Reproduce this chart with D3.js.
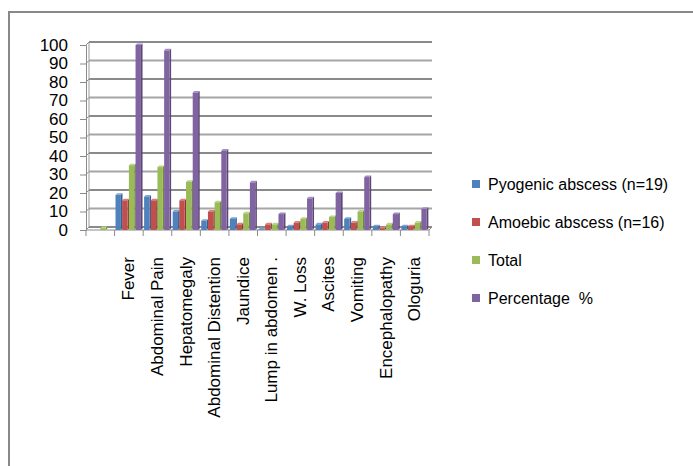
<!DOCTYPE html>
<html><head><meta charset="utf-8">
<script src="https://cdn.jsdelivr.net/npm/d3@7"></script>
<style>body{margin:0;background:#fff}svg{display:block;font-family:"Liberation Sans",Arial,sans-serif}text{white-space:pre}</style>
</head><body><svg id="c" width="693" height="466"></svg>
<script>
const categories = ["", "Fever", "Abdominal Pain", "Hepatomegaly", "Abdominal Distention", "Jaundice", "Lump in abdomen .", "W. Loss", "Ascites", "Vomiting", "Encephalopathy", "Ologuria"];
const seriesNames = ["Pyogenic abscess (n=19)", "Amoebic abscess (n=16)", "Total", "Percentage  %"];
const pyogenic = [0, 19, 18, 10, 5, 6, 0.4, 2, 3, 6, 2, 2];
const amoebic = [0, 16, 16, 16, 10, 3, 3, 4, 4, 4, 1, 2];
const total = [1, 35, 34, 26, 15, 9, 3, 6, 7, 10, 3, 4];
const percentage = [0, 100, 97.1, 74.3, 42.9, 25.7, 8.6, 17.1, 20, 28.6, 8.6, 11.4];
const yTicks = [0, 10, 20, 30, 40, 50, 60, 70, 80, 90, 100];
const colors = ["#4f81bd", "#c0504d", "#9bbb59", "#8064a2"];
const sideColors = ["#385d8a", "#8c3836", "#71893f", "#5c4776"];
const topColors = ["#7fa3d3", "#d8807d", "#bcd48a", "#a48ec0"];

const series = [pyogenic, amoebic, total, percentage];
const svg = d3.select("#c");
const dx = 3, dy = 3; // 3D depth offset

// outer frame
svg.append("line").attr("x1", 9).attr("x2", 693).attr("y1", 12).attr("y2", 12).attr("stroke", "#888").attr("stroke-width", 2);
svg.append("line").attr("x1", 9).attr("x2", 9).attr("y1", 11).attr("y2", 466).attr("stroke", "#888").attr("stroke-width", 2);

const x = d3.scaleBand().domain(categories.map((d, i) => i)).range([86, 429]).paddingInner(0).paddingOuter(0);
const y = d3.scaleLinear().domain([0, 100]).range([230, 45]);
const inner = d3.scaleBand().domain([0, 1, 2, 3]).range([0, x.bandwidth()]).paddingInner(0).paddingOuter(0.14);

// back wall gridlines
const g = svg.append("g");
yTicks.forEach((t, i) => {
  g.append("line").attr("x1", 86 + dx).attr("x2", 429 + dx).attr("y1", y(t) - dy).attr("y2", y(t) - dy)
    .attr("stroke", i % 2 ? "#a6a6a6" : "#8a8a8a").attr("stroke-width", 2);
  g.append("line").attr("x1", 86).attr("x2", 86 + dx).attr("y1", y(t)).attr("y2", y(t) - dy)
    .attr("stroke", "#8a8a8a").attr("stroke-width", 1);
});
g.append("line").attr("x1", 86 + dx).attr("x2", 86 + dx).attr("y1", y(100) - dy).attr("y2", y(0) - dy).attr("stroke", "#9a9a9a").attr("stroke-width", 1);
// floor front edge
g.append("line").attr("x1", 86).attr("x2", 429).attr("y1", y(0)).attr("y2", y(0)).attr("stroke", "#8a8a8a").attr("stroke-width", 1);
g.append("line").attr("x1", 429).attr("x2", 429 + dx).attr("y1", y(0)).attr("y2", y(0) - dy).attr("stroke", "#8a8a8a").attr("stroke-width", 1);

// y axis (front)
const yAxis = d3.axisLeft(y).tickValues(yTicks).tickSize(6).tickPadding(12);
const ya = svg.append("g").attr("transform", "translate(86,0)").call(yAxis);
ya.select(".domain").attr("stroke", "#8a8a8a");
ya.selectAll(".tick line").attr("stroke", "#8a8a8a");
ya.selectAll("text").attr("font-size", 17).attr("fill", "#000").attr("font-family", "Liberation Sans, Arial, sans-serif");

// x axis ticks
const xa = svg.append("g");
d3.range(categories.length + 1).forEach(i => {
  const xx = i < categories.length ? x(i) : 429;
  xa.append("line").attr("x1", xx).attr("x2", xx).attr("y1", y(0)).attr("y2", y(0) + 6).attr("stroke", "#8a8a8a");
});
categories.forEach((c, i) => {
  xa.append("text").attr("transform", `translate(${x(i) + x.bandwidth() / 2},257) rotate(-90)`)
    .attr("text-anchor", "end").attr("dominant-baseline", "central").attr("font-size", 17).attr("fill", "#000").text(c);
});

// bars with 3D look
const bars = svg.append("g");
categories.forEach((c, i) => {
  series.forEach((s, k) => {
    const v = s[i];
    if (v <= 0) return;
    const x0 = x(i) + inner(k);
    const w = inner.bandwidth() - 1.3;
    const yt = y(v), yb = y(0);
    bars.append("path").attr("d", `M${x0 + w},${yt} L${x0 + w + 1.6},${yt - 1.6} L${x0 + w + 1.6},${yb - 1.6} L${x0 + w},${yb} Z`).attr("fill", sideColors[k]);
    bars.append("path").attr("d", `M${x0},${yt} L${x0 + 1.6},${yt - 1.6} L${x0 + w + 1.6},${yt - 1.6} L${x0 + w},${yt} Z`).attr("fill", topColors[k]);
    bars.append("rect").attr("x", x0).attr("y", yt).attr("width", w).attr("height", yb - yt).attr("fill", colors[k]);
  });
});

// legend
const lg = svg.append("g");
seriesNames.forEach((n, k) => {
  const cy = 184 + k * 38;
  lg.append("rect").attr("x", 472).attr("y", cy - 4).attr("width", 8).attr("height", 8).attr("fill", colors[k]);
  lg.append("text").attr("x", 488).attr("y", cy).attr("dominant-baseline", "central").attr("font-size", 16).attr("fill", "#000").text(n);
});
</script></body></html>
